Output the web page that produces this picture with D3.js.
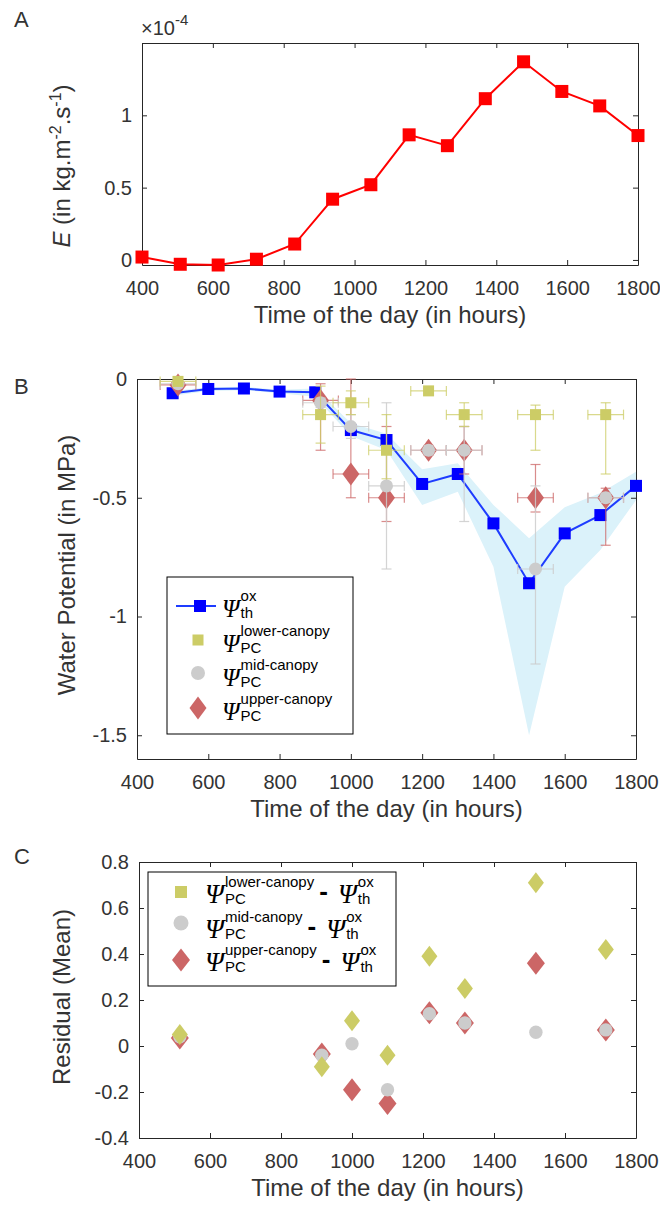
<!DOCTYPE html>
<html>
<head>
<meta charset="utf-8">
<script src="https://cdnjs.cloudflare.com/ajax/libs/d3/7.8.5/d3.min.js"></script>
<style>
  body { margin: 0; background: #fff; }
  svg text { font-family: "Liberation Sans", Arial, sans-serif; fill: #333; }
  .axis path, .axis line { stroke: #262626; stroke-width: 1; }
  .psi { font-family: "Liberation Serif", serif; font-style: italic; fill: #000; }
</style>
</head>
<body>
<script>
// ---- Panel A : transpiration E (x10^-4 kg m-2 s-1) ----
var eTime = [400, 508, 615, 723, 831, 938, 1046, 1154, 1262, 1369, 1477, 1585, 1692, 1800];
var eValue = [0.02, -0.03, -0.035, 0.005, 0.11, 0.42, 0.52, 0.865, 0.79, 1.115, 1.37, 1.165, 1.065, 0.86];
var xTicks = [400, 600, 800, 1000, 1200, 1400, 1600, 1800];
var eYTicks = [0, 0.5, 1];

// ---- Panel B : water potential (MPa) ----
var thTime = [500, 600, 700, 800, 900, 1000, 1100, 1200, 1300, 1400, 1500, 1600, 1700, 1800];
var thPsi = [-0.06, -0.042, -0.04, -0.053, -0.056, -0.215, -0.257, -0.442, -0.40, -0.608, -0.86, -0.65, -0.573, -0.45];
var thUpper = [-0.05, -0.035, -0.033, -0.045, -0.04, -0.185, -0.23, -0.38, -0.355, -0.53, -0.67, -0.54, -0.48, -0.39];
var thLower = [-0.07, -0.05, -0.047, -0.06, -0.075, -0.24, -0.30, -0.53, -0.475, -0.79, -1.50, -0.875, -0.72, -0.51];

var pcTime = [515, 915, 1000, 1100, 1218, 1318, 1518, 1715];
var pcTimeErr = [50, 50, 50, 50, 50, 50, 50, 50];

var lowerPsi = [-0.01, -0.15, -0.10, -0.30, -0.05, -0.15, -0.15, -0.15];
var lowerLo  = [-0.03, -0.27, -0.15, -0.42, -0.06, -0.20, -0.30, -0.40];
var lowerHi  = [0.00, -0.03, -0.05, -0.15, -0.04, -0.10, -0.11, -0.10];

var midPsi = [-0.02, -0.10, -0.20, -0.45, -0.30, -0.30, -0.80, -0.50];
var midLo  = [-0.03, -0.12, -0.25, -0.80, -0.32, -0.60, -1.20, -0.52];
var midHi  = [-0.01, -0.08, -0.15, -0.10, -0.28, -0.20, -0.45, -0.48];

var upperPsi = [-0.025, -0.09, -0.40, -0.50, -0.30, -0.30, -0.50, -0.50];
var upperLo  = [-0.03, -0.30, -0.50, -0.60, -0.32, -0.40, -0.56, -0.70];
var upperHi  = [0.00, -0.02, 0.00, -0.20, -0.28, -0.20, -0.36, -0.46];

var bYTicks = [-1.5, -1, -0.5, 0];

// ---- Panel C : residuals (mean) ----
var lowerRes = [0.05, -0.09, 0.11, -0.04, 0.39, 0.25, 0.71, 0.42];
var midRes   = [0.04, -0.04, 0.01, -0.19, 0.14, 0.10, 0.06, 0.07];
var upperRes = [0.035, -0.035, -0.19, -0.25, 0.145, 0.10, 0.36, 0.07];
var cYTicks = [-0.4, -0.2, 0, 0.2, 0.4, 0.6, 0.8];

// colours
var yellow = '#cccc66', grey = '#cccccc', rose = '#cc6666', blue = '#0000ff';

var svg = d3.select('body').append('svg')
  .attr('width', 660)
  .attr('height', 1205);

// draws the box with inward ticks on all four sides
function drawFrame(x, y, yTicks) {
  var l = x.range()[0], r = x.range()[1], t = y.range()[1], b = y.range()[0];
  var fmt = function(d) { return String(d); };

  svg.append('g').attr('class', 'axis').attr('transform', 'translate(0,' + b + ')')
    .call(d3.axisBottom(x).tickValues(xTicks).tickSizeInner(-5).tickSizeOuter(0).tickPadding(16).tickFormat(fmt));
  svg.append('g').attr('class', 'axis').attr('transform', 'translate(0,' + t + ')')
    .call(d3.axisTop(x).tickValues(xTicks).tickSizeInner(-5).tickSizeOuter(0).tickFormat(''));
  svg.append('g').attr('class', 'axis').attr('transform', 'translate(' + l + ',0)')
    .call(d3.axisLeft(y).tickValues(yTicks).tickSizeInner(-5).tickSizeOuter(0).tickPadding(10).tickFormat(fmt));
  svg.append('g').attr('class', 'axis').attr('transform', 'translate(' + r + ',0)')
    .call(d3.axisRight(y).tickValues(yTicks).tickSizeInner(-5).tickSizeOuter(0).tickFormat(''));

  svg.selectAll('.axis').attr('font-family', null).attr('font-size', 20);
  svg.selectAll('.axis text').style('fill', '#333');
}

function xTitle(x, y0, txt) {
  svg.append('text')
    .attr('x', (x.range()[0] + x.range()[1]) / 2)
    .attr('y', y0)
    .attr('text-anchor', 'middle')
    .attr('font-size', 24)
    .text(txt);
}

function diamond(cx, cy, w, h) {
  return 'M' + cx + ',' + (cy - h / 2) + 'L' + (cx + w / 2) + ',' + cy +
    'L' + cx + ',' + (cy + h / 2) + 'L' + (cx - w / 2) + ',' + cy + 'Z';
}

// psi with a superscript and subscript, returns the x where it ends
function psiLabel(g, x0, base, sup, sub, size) {
  var p = g.append('text').attr('class', 'psi').attr('x', x0).attr('y', base)
    .attr('font-size', size).text('\u03A8');
  var w = p.node().getComputedTextLength();
  var s1 = g.append('text').attr('x', x0 + w + 1).attr('y', base - 16)
    .attr('font-size', 15).style('fill', '#000').text(sup);
  var s2 = g.append('text').attr('x', x0 + w + 1).attr('y', base + 1)
    .attr('font-size', 15).style('fill', '#000').text(sub);
  return x0 + w + 1 + Math.max(s1.node().getComputedTextLength(), s2.node().getComputedTextLength());
}

// ================= Panel A =================
var xA = d3.scaleLinear().domain([400, 1800]).range([142, 638]);
var yA = d3.scaleLinear().domain([-0.035, 1.5]).range([265, 43]);

drawFrame(xA, yA, eYTicks);

var eLine = d3.line()
  .x(function(d, i) { return xA(eTime[i]); })
  .y(function(d) { return yA(d); });

svg.append('path')
  .datum(eValue)
  .attr('d', eLine)
  .attr('fill', 'none')
  .attr('stroke', '#ff0000')
  .attr('stroke-width', 2);

svg.selectAll('rect.e-mark')
  .data(eValue)
  .enter()
  .append('rect')
  .attr('class', 'e-mark')
  .attr('x', function(d, i) { return xA(eTime[i]) - 6.5; })
  .attr('y', function(d) { return yA(d) - 6.5; })
  .attr('width', 13)
  .attr('height', 13)
  .attr('fill', '#ff0000');

xTitle(xA, 323, 'Time of the day (in hours)');

// exponent label on top of the axis
var expo = svg.append('text').attr('x', 141).attr('y', 35).attr('font-size', 20);
expo.append('tspan').text('\u00D710');
expo.append('tspan').attr('dy', -10).attr('font-size', 15).text('-4');

// rotated y title with italic E
var eTitle = svg.append('text')
  .attr('transform', 'translate(70,166) rotate(-90)')
  .attr('text-anchor', 'middle')
  .attr('font-size', 24);
eTitle.append('tspan').attr('font-style', 'italic').text('E');
eTitle.append('tspan').text(' (in kg.m');
eTitle.append('tspan').attr('dy', -9).attr('font-size', 16).text('-2');
eTitle.append('tspan').attr('dy', 9).text('.s');
eTitle.append('tspan').attr('dy', -9).attr('font-size', 16).text('-1');
eTitle.append('tspan').attr('dy', 9).text(')');

svg.append('text').attr('x', 14).attr('y', 27).attr('font-size', 22).text('A');

// ================= Panel B =================
var xB = d3.scaleLinear().domain([400, 1800]).range([137, 636]);
var yB = d3.scaleLinear().domain([-1.6, 0]).range([759, 379]);

// shaded band of the theoretical estimate
var band = d3.area()
  .x(function(d, i) { return xB(thTime[i]); })
  .y0(function(d, i) { return yB(thLower[i]); })
  .y1(function(d, i) { return yB(thUpper[i]); });

svg.append('path')
  .datum(thPsi)
  .attr('d', band)
  .attr('fill', '#dbf2fa');

drawFrame(xB, yB, bYTicks);

var thLine = d3.line()
  .x(function(d, i) { return xB(thTime[i]); })
  .y(function(d) { return yB(d); });

svg.append('path')
  .datum(thPsi)
  .attr('d', thLine)
  .attr('fill', 'none')
  .attr('stroke', '#1e3cff')
  .attr('stroke-width', 2);

svg.selectAll('rect.th-mark')
  .data(thPsi)
  .enter()
  .append('rect')
  .attr('class', 'th-mark')
  .attr('x', function(d, i) { return xB(thTime[i]) - 6; })
  .attr('y', function(d) { return yB(d) - 6; })
  .attr('width', 12)
  .attr('height', 12)
  .attr('fill', blue);

// error bars (horizontal time spread + vertical range)
function errorBars(vals, lo, hi, color, opacity) {
  var g = svg.append('g').attr('stroke', color).attr('stroke-opacity', opacity).attr('stroke-width', 1.2);
  var cap = 5;
  vals.forEach(function(v, i) {
    var cx = xB(pcTime[i]), cy = yB(v);
    var x1 = xB(pcTime[i] - pcTimeErr[i]), x2 = xB(pcTime[i] + pcTimeErr[i]);
    var y1 = yB(lo[i]), y2 = yB(hi[i]);
    g.append('line').attr('x1', cx).attr('x2', cx).attr('y1', y1).attr('y2', y2);
    g.append('line').attr('x1', cx - cap).attr('x2', cx + cap).attr('y1', y1).attr('y2', y1);
    g.append('line').attr('x1', cx - cap).attr('x2', cx + cap).attr('y1', y2).attr('y2', y2);
    g.append('line').attr('x1', x1).attr('x2', x2).attr('y1', cy).attr('y2', cy);
    g.append('line').attr('x1', x1).attr('x2', x1).attr('y1', cy - cap).attr('y2', cy + cap);
    g.append('line').attr('x1', x2).attr('x2', x2).attr('y1', cy - cap).attr('y2', cy + cap);
  });
}

// upper canopy (diamonds)
errorBars(upperPsi, upperLo, upperHi, rose, 0.75);
svg.selectAll('path.upper-mark')
  .data(upperPsi)
  .enter()
  .append('path')
  .attr('class', 'upper-mark')
  .attr('d', function(d, i) { return diamond(xB(pcTime[i]), yB(d), 17, 23); })
  .attr('fill', rose);

// mid canopy (circles)
errorBars(midPsi, midLo, midHi, grey, 0.85);
svg.selectAll('circle.mid-mark')
  .data(midPsi)
  .enter()
  .append('circle')
  .attr('class', 'mid-mark')
  .attr('cx', function(d, i) { return xB(pcTime[i]); })
  .attr('cy', function(d) { return yB(d); })
  .attr('r', 6.5)
  .attr('fill', grey);

// lower canopy (squares)
errorBars(lowerPsi, lowerLo, lowerHi, yellow, 0.75);
svg.selectAll('rect.lower-mark')
  .data(lowerPsi)
  .enter()
  .append('rect')
  .attr('class', 'lower-mark')
  .attr('x', function(d, i) { return xB(pcTime[i]) - 5.5; })
  .attr('y', function(d) { return yB(d) - 5.5; })
  .attr('width', 11)
  .attr('height', 11)
  .attr('fill', yellow);

xTitle(xB, 817, 'Time of the day (in hours)');

svg.append('text')
  .attr('transform', 'translate(75,565) rotate(-90)')
  .attr('text-anchor', 'middle')
  .attr('font-size', 24)
  .text('Water Potential (in MPa)');

svg.append('text').attr('x', 14).attr('y', 394).attr('font-size', 22).text('B');

// legend B
var legB = svg.append('g');
legB.append('rect').attr('x', 167).attr('y', 577).attr('width', 186).attr('height', 157)
  .attr('fill', '#fff').attr('stroke', '#000').attr('stroke-width', 1);

var legRows = [617, 652, 686, 720];
legB.append('line').attr('x1', 176).attr('x2', 216).attr('y1', legRows[0] - 11).attr('y2', legRows[0] - 11)
  .attr('stroke', '#1e3cff').attr('stroke-width', 2);
legB.append('rect').attr('x', 194).attr('y', legRows[0] - 17).attr('width', 12).attr('height', 12).attr('fill', blue);
legB.append('rect').attr('x', 192.5).attr('y', legRows[1] - 17.5).attr('width', 11).attr('height', 11).attr('fill', yellow);
legB.append('circle').attr('cx', 198).attr('cy', legRows[2] - 13).attr('r', 7).attr('fill', grey);
legB.append('path').attr('d', diamond(198, legRows[3] - 12, 17, 23)).attr('fill', rose);

psiLabel(legB, 222, legRows[0], 'ox', 'th', 25);
psiLabel(legB, 222, legRows[1], 'lower-canopy', 'PC', 25);
psiLabel(legB, 222, legRows[2], 'mid-canopy', 'PC', 25);
psiLabel(legB, 222, legRows[3], 'upper-canopy', 'PC', 25);

// ================= Panel C =================
var xC = d3.scaleLinear().domain([400, 1800]).range([139, 636]);
var yC = d3.scaleLinear().domain([-0.4, 0.8]).range([1138, 862]);

drawFrame(xC, yC, cYTicks);

svg.selectAll('path.upper-res')
  .data(upperRes)
  .enter()
  .append('path')
  .attr('class', 'upper-res')
  .attr('d', function(d, i) { return diamond(xC(pcTime[i]), yC(d), 18, 23); })
  .attr('fill', rose);

svg.selectAll('circle.mid-res')
  .data(midRes)
  .enter()
  .append('circle')
  .attr('class', 'mid-res')
  .attr('cx', function(d, i) { return xC(pcTime[i]); })
  .attr('cy', function(d) { return yC(d); })
  .attr('r', 6.7)
  .attr('fill', grey);

svg.selectAll('path.lower-res')
  .data(lowerRes)
  .enter()
  .append('path')
  .attr('class', 'lower-res')
  .attr('d', function(d, i) { return diamond(xC(pcTime[i]), yC(d), 16, 21); })
  .attr('fill', yellow);

xTitle(xC, 1196, 'Time of the day (in hours)');

svg.append('text')
  .attr('transform', 'translate(70,997) rotate(-90)')
  .attr('text-anchor', 'middle')
  .attr('font-size', 24)
  .text('Residual (Mean)');

svg.append('text').attr('x', 14).attr('y', 864).attr('font-size', 22).text('C');

// legend C
var legC = svg.append('g');
legC.append('rect').attr('x', 148).attr('y', 872).attr('width', 248).attr('height', 114)
  .attr('fill', '#fff').attr('stroke', '#000').attr('stroke-width', 1);

var legCRows = [903, 938, 971];
legC.append('rect').attr('x', 175).attr('y', legCRows[0] - 17).attr('width', 12).attr('height', 12).attr('fill', yellow);
legC.append('circle').attr('cx', 181).attr('cy', legCRows[1] - 15).attr('r', 7.5).attr('fill', grey);
legC.append('path').attr('d', diamond(181, legCRows[2] - 11, 18, 23)).attr('fill', rose);

var cSups = ['lower-canopy', 'mid-canopy', 'upper-canopy'];
cSups.forEach(function(s, i) {
  var end = psiLabel(legC, 205, legCRows[i], s, 'PC', 27);
  var dash = legC.append('text').attr('x', end + 5).attr('y', legCRows[i] - 3)
    .attr('font-size', 26).style('fill', '#000').attr('font-weight', 'bold').text('-');
  var dw = dash.node().getComputedTextLength();
  psiLabel(legC, end + 5 + dw + 10, legCRows[i], 'ox', 'th', 27);
});
</script>
</body>
</html>
